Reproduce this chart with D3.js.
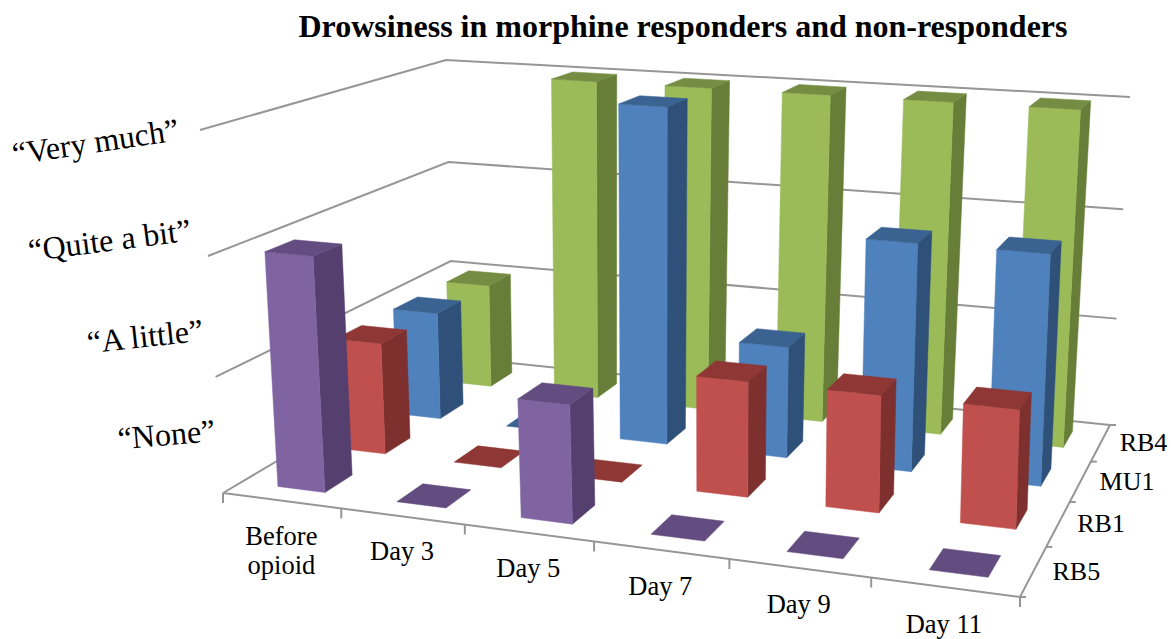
<!DOCTYPE html>
<html>
<head>
<meta charset="utf-8">
<script src="https://d3js.org/d3.v7.min.js"></script>
<style>
  html, body { margin: 0; background: #fff; }
  svg { display: block; }
  text { font-family: "Liberation Serif", "Times New Roman", serif; fill: #000; }
</style>
</head>
<body>
<script>
"use strict";
var title = "Drowsiness in morphine responders and non-responders";
var categories = ["Before opioid", "Day 3", "Day 5", "Day 7", "Day 9", "Day 11"];
var series = ["RB5", "RB1", "MU1", "RB4"];
var levels = ["\u201CNone\u201D", "\u201CA little\u201D", "\u201CQuite a bit\u201D", "\u201CVery much\u201D"];
var rb5 = [2, 0, 1, 0, 0, 0];
var rb1 = [1, 0, 0, 1, 1, 1];
var mu1 = [1, 0, 3, 1, 2, 2];
var rb4 = [1, 3, 3, 3, 3, 3];
var values = [rb5, rb1, mu1, rb4];

var width = 1171, height = 639;

var colors = [
  { front: "#8064a2", side: "#543f6e", top: "#634c7f" },
  { front: "#c0504d", side: "#7d302e", top: "#8e3734" },
  { front: "#4f81bd", side: "#2f5078", top: "#3a6391" },
  { front: "#9bbb59", side: "#667e37", top: "#748d43" }
];

// the box the chart sits in: screen corners plus a depth weight, floor and ceiling
var box = {
  fl0: [223, 493, 1 / 115], bl0: [453, 357, 1 / 97], br0: [1110, 425, 1 / 107], fr0: [1020, 597, 1 / 132],
  fl1: [200, 130, 0.94 / 115], bl1: [446, 60, 0.955 / 97], br1: [1130, 97, 0.96 / 107], fr1: [1028, 196, 0.94 / 132]
};

// u along categories, v along series, t along values, all 0..1
function project(u, v, t) {
  var corners = [
    [box.fl0, (1 - u) * (1 - v) * (1 - t)], [box.fr0, u * (1 - v) * (1 - t)],
    [box.bl0, (1 - u) * v * (1 - t)], [box.br0, u * v * (1 - t)],
    [box.fl1, (1 - u) * (1 - v) * t], [box.fr1, u * (1 - v) * t],
    [box.bl1, (1 - u) * v * t], [box.br1, u * v * t]
  ];
  var X = 0, Y = 0, W = 0;
  corners.forEach(function (c) {
    X += c[0][0] * c[0][2] * c[1];
    Y += c[0][1] * c[0][2] * c[1];
    W += c[0][2] * c[1];
  });
  return [X / W, Y / W];
}

var x = d3.scaleBand().domain(categories).range([0.002, 1.006]).paddingInner(0.6).paddingOuter(0.3);
var z = d3.scaleBand().domain(series).range([0, 1]).paddingInner(0.56).paddingOuter(0.28);
var y = d3.scaleLinear().domain([0, 3]).range([0, 1]);

var xStep = d3.scaleBand().domain(categories).range([0, 1]);
var zStep = d3.scaleBand().domain(series).range([0, 1]);

var line = d3.line();

var svg = d3.select("body").append("svg")
  .attr("width", width)
  .attr("height", height);

svg.append("text")
  .attr("x", 683)
  .attr("y", 37)
  .attr("text-anchor", "middle")
  .style("font-size", "32px")
  .style("font-weight", "bold")
  .text(title);

// walls
var grid = svg.append("g")
  .attr("fill", "none")
  .attr("stroke", "#969696")
  .attr("stroke-width", 2);

d3.range(4).forEach(function (d) {
  grid.append("path").attr("d", line([project(0, 0, y(d)), project(0, 1, y(d)), project(1, 1, y(d))]));
});

// floor edges and ticks
grid.append("path").attr("d", line([project(0, 0, 0), project(1, 0, 0), project(1, 1, 0)]));

d3.range(categories.length + 1).forEach(function (i) {
  var p = project(i / categories.length, 0, 0);
  grid.append("path").attr("d", line([p, [p[0], p[1] + 10]]));
});

d3.range(series.length + 1).forEach(function (i) {
  var p = project(1, i / series.length, 0);
  grid.append("path").attr("d", line([p, [p[0] + 6, p[1]]]));
});

// bars, back row first and left to right so nearer ones cover the rest
var bars = svg.append("g");

d3.range(series.length - 1, -1, -1).forEach(function (s) {
  var v0 = z(series[s]), v1 = v0 + z.bandwidth();
  categories.forEach(function (c, i) {
    var u0 = x(c), u1 = u0 + x.bandwidth();
    var t = y(values[s][i]);
    var col = colors[s];
    var g = bars.append("g");
    if (values[s][i] > 0) {
      g.append("path")
        .attr("d", line([project(u1, v0, 0), project(u1, v1, 0), project(u1, v1, t), project(u1, v0, t)]) + "Z")
        .attr("fill", col.side).attr("stroke", col.side).attr("stroke-width", 0.5);
      g.append("path")
        .attr("d", line([project(u0, v0, 0), project(u1, v0, 0), project(u1, v0, t), project(u0, v0, t)]) + "Z")
        .attr("fill", col.front).attr("stroke", col.front).attr("stroke-width", 0.5);
    }
    g.append("path")
      .attr("d", line([project(u0, v0, t), project(u1, v0, t), project(u1, v1, t), project(u0, v1, t)]) + "Z")
      .attr("fill", col.top).attr("stroke", col.top).attr("stroke-width", 0.5);
  });
});

// labels
var labelDx = d3.scaleLinear().domain([0, 1]).range([0, -1]);
var labelDy = d3.scaleLinear().domain([0, 1]).range([41.4, 44.8]);

categories.forEach(function (c) {
  var u = xStep(c) + xStep.bandwidth() / 2;
  var p = project(u, 0, 0);
  var t = svg.append("text")
    .attr("text-anchor", "middle")
    .attr("transform", "translate(" + (p[0] + labelDx(u)) + "," + (p[1] + labelDy(u)) + ")")
    .style("font-size", "26.5px");
  if (c === "Before opioid") {
    t.append("tspan").attr("x", 0).attr("y", 2.5).text("Before");
    t.append("tspan").attr("x", 0).attr("y", 32).text("opioid");
  } else {
    t.attr("dy", "0.35em").attr("y", -8).text(c);
  }
});

series.forEach(function (d) {
  var p = project(1, zStep(d) + zStep.bandwidth() / 2, 0);
  svg.append("text")
    .attr("x", p[0] + 19)
    .attr("y", p[1] + 8.5)
    .style("font-size", "26px")
    .text(d);
});

var levelX = d3.scaleLinear().domain([0, 3]).range([216, 180]);
var levelY = d3.scaleLinear().domain([0, 3]).range([441, 140]);
var levelAngle = d3.scaleLinear().domain([0, 3]).range([-5, -8.5]);

levels.forEach(function (d, i) {
  svg.append("text")
    .attr("text-anchor", "end")
    .attr("transform", "translate(" + levelX(i) + "," + levelY(i) + ") rotate(" + levelAngle(i) + ")")
    .style("font-size", "32px")
    .text(d);
});
</script>
</body>
</html>
